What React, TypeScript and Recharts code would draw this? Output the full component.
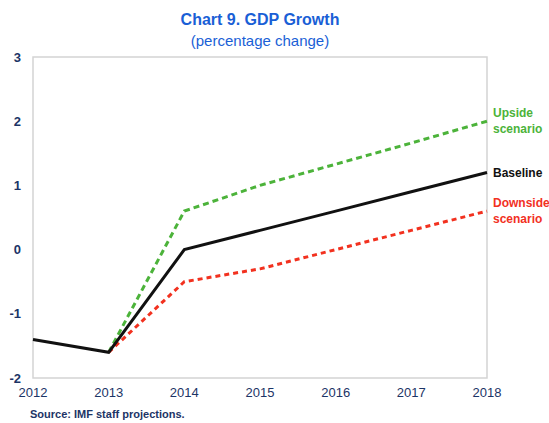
import { LineChart, Line, XAxis, YAxis, ReferenceArea, LabelList } from "recharts"

const years = [2012, 2013, 2014, 2015, 2016, 2017, 2018]
const baseline = [-1.4, -1.6, 0.0, 0.3, 0.6, 0.9, 1.2]
const upside = [null, -1.6, 0.6, 1.0, 1.33, 1.66, 2.0]
const downside = [null, -1.6, -0.5, -0.3, 0.0, 0.3, 0.6]
const yTicks = [-2, -1, 0, 1, 2, 3]

const data = years.map((year, i) => ({
  year,
  baseline: baseline[i],
  upside: upside[i],
  downside: downside[i],
}))

const navy = "#1c3466"
const font = "Arial, 'Liberation Sans', Helvetica, sans-serif"

function endLabel(lines: string[], color: string) {
  return (props: any) => {
    const { x, y, index } = props
    if (index !== years.length - 1) return null
    const lh = 16
    const start = y - ((lines.length - 1) * lh) / 2
    return (
      <text x={x + 6} y={start} fill={color} fontSize={12} fontWeight="bold" fontFamily={font} dominantBaseline="central">
        {lines.map((l, i) => (
          <tspan key={l} x={x + 6} y={start + i * lh}>
            {l}
          </tspan>
        ))}
      </text>
    )
  }
}

export default function App() {
  return (
    <div style={{ position: "absolute", left: 0, top: 0, width: 549, height: 423, background: "#fff", fontFamily: font }}>
      <div style={{ position: "absolute", left: 0, width: 520, top: 11, textAlign: "center", color: "#1a5fd6", fontSize: 16, fontWeight: "bold" }}>
        Chart 9. GDP Growth
      </div>
      <div style={{ position: "absolute", left: 0, width: 520, top: 32, textAlign: "center", color: "#1a5fd6", fontSize: 15 }}>
        (percentage change)
      </div>
      <LineChart width={549} height={423} data={data} margin={{ top: 57, right: 62, left: 0, bottom: 0 }}>
        <XAxis
          dataKey="year"
          type="number"
          domain={[2012, 2018]}
          ticks={years}
          axisLine={false}
          tickLine={false}
          height={45}
          tick={{ fontSize: 13, fill: navy, fontFamily: font }}
          tickMargin={4}
        />
        <YAxis
          domain={[-2, 3]}
          ticks={yTicks}
          axisLine={false}
          tickLine={false}
          width={33}
          tick={{ fontSize: 13, fill: navy, fontFamily: font, fontWeight: "bold" }}
          tickMargin={6}
        />
        <ReferenceArea x1={2012} x2={2018} y1={-2} y2={3} fill="none" stroke="#d4d4d4" strokeWidth={1.5} />
        <Line
          dataKey="upside"
          stroke="#4cb33a"
          strokeWidth={3}
          strokeDasharray="6 4"
          dot={false}
          isAnimationActive={false}
        >
          <LabelList dataKey="upside" content={endLabel(["Upside", "scenario"], "#4cb33a")} />
        </Line>
        <Line
          dataKey="downside"
          stroke="#f2311f"
          strokeWidth={3}
          strokeDasharray="5 4"
          dot={false}
          isAnimationActive={false}
        >
          <LabelList dataKey="downside" content={endLabel(["Downside", "scenario"], "#f2311f")} />
        </Line>
        <Line dataKey="baseline" stroke="#111" strokeWidth={3} dot={false} isAnimationActive={false}>
          <LabelList dataKey="baseline" content={endLabel(["Baseline"], "#111")} />
        </Line>
      </LineChart>
      <div style={{ position: "absolute", left: 30, top: 408, color: navy, fontSize: 11, fontWeight: "bold" }}>
        Source: IMF staff projections.
      </div>
    </div>
  )
}
